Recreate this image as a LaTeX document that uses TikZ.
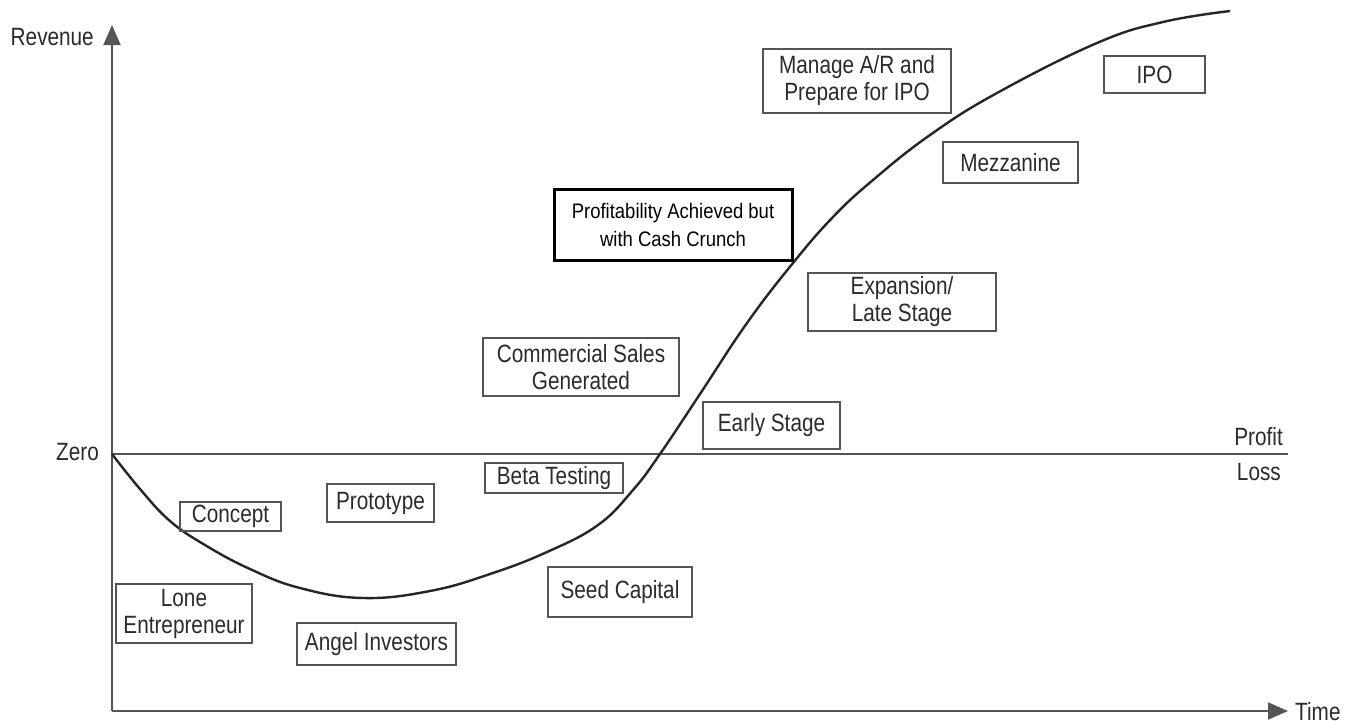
\documentclass[tikz,border=0pt]{standalone}
\usepackage{fontspec}
\setmainfont{Liberation Sans}[FakeStretch=0.83]
\newfontfamily\plainsans{Liberation Sans}[FakeStretch=0.88]
\usetikzlibrary{arrows.meta}
\definecolor{ink}{HTML}{2B2B2B}
\definecolor{frame}{HTML}{555555}
\begin{document}
\begin{tikzpicture}[x=1pt,y=-1pt,
  stage/.style={draw=frame, line width=1.8pt, text=ink, align=center, inner sep=0pt,
                font=\fontsize{25}{27}\selectfont},
  lbl/.style={text=ink, inner sep=0pt, font=\fontsize{25}{27}\selectfont},
  axis/.style={draw=frame, line width=2pt},
  curve/.style={draw=black!85, line width=2.4pt, line join=round}]
\useasboundingbox[fill=white] (0,0) rectangle (1360,724);

% axes and the break-even line
\coordinate (O) at (112,711);
\coordinate (ytip) at (112,25);
\coordinate (xtip) at (1288,711);
\coordinate (z0) at (112,454);
\coordinate (z1) at (1288,454);
\draw[axis, -{Triangle[width=17pt,length=20pt]}] (O) -- (ytip);
\draw[axis, -{Triangle[width=17pt,length=20pt]}] (O) -- (xtip);
\draw[axis] (z0) -- (z1);

% axis labels
\node[lbl, anchor=east] (rev) at (94,37) {Revenue};
\node[lbl, anchor=west] (time) at (1295,712) {Time};
\node[lbl, anchor=east] (zero) at (99,452) {Zero};
\node[lbl, anchor=east] (profit) at (1283,437) {Profit};
\node[lbl, anchor=east] (loss) at (1281,472) {Loss};

% revenue curve through the life cycle
\draw[curve] plot[smooth, tension=0.7] coordinates {
  (112,454) (140,489) (170,521) (205,545) (250,569) (300,588) (363,598)
  (430,591) (490,574) (547,552) (598,525) (633,490) (660,454)
  (700,394) (747,323) (793,263) (833,217) (873,180) (930,135) (997,93)
  (1097,43) (1163,22) (1230,11)};

% stage boxes
\node[stage, minimum width=101pt, minimum height=29pt] (concept) at (230.5,516.5) {Concept};
\node[stage, minimum width=136pt, minimum height=59pt] (lone) at (184,613.5) {Lone\\Entrepreneur};
\node[stage, minimum width=107pt, minimum height=38pt] (proto) at (380.5,503) {Prototype};
\node[stage, minimum width=159pt, minimum height=42pt] (angel) at (376.5,644) {Angel Investors};
\node[stage, minimum width=144pt, minimum height=50pt] (seed) at (620,592) {Seed Capital};
\node[stage, minimum width=138pt, minimum height=30pt] (beta) at (554,478) {Beta Testing};
\node[stage, minimum width=196pt, minimum height=58pt] (sales) at (581,367) {Commercial Sales\\Generated};
\node[stage, minimum width=137pt, minimum height=47pt] (early) at (771.5,425.5) {Early Stage};
\node[stage, minimum width=188pt, minimum height=58pt] (expansion) at (902,302) {Expansion/\\Late Stage};
\node[stage, minimum width=135pt, minimum height=41pt] (mezz) at (1010.5,162.5) {Mezzanine};
\node[stage, minimum width=188pt, minimum height=64pt] (manage) at (857,81) {Manage A/R and\\Prepare for IPO};
\node[stage, minimum width=101pt, minimum height=37pt] (ipo) at (1154.5,74.5) {IPO};
\node[stage, draw=black, line width=3pt, text=black, minimum width=238pt, minimum height=71pt,
      font=\plainsans\fontsize{21}{28}\selectfont] (profitable) at (673,224.5)
      {Profitability Achieved but\\with Cash Crunch};
\end{tikzpicture}
\end{document}
